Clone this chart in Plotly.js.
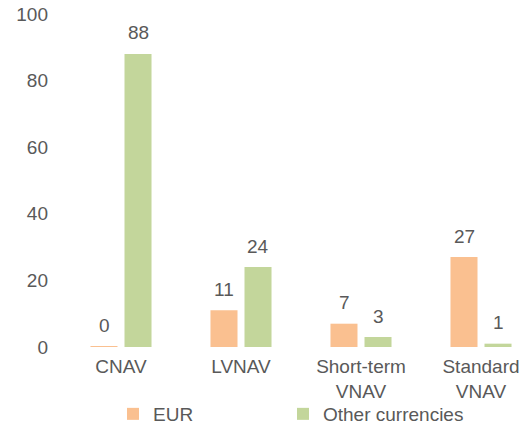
<!DOCTYPE html>
<html><head><meta charset="utf-8">
<script src="https://cdn.plot.ly/plotly-3.0.1.min.js"></script>
<style>html,body{margin:0;padding:0;background:#fff}</style>
</head><body><div id="chart" style="width:526px;height:428px"></div>
<script>
const categories = ["CNAV", "LVNAV", "Short-term<br>VNAV", "Standard<br>VNAV"];
const eurValues = [0.3, 11, 7, 27];
const eurLabels = ["0", "11", "7", "27"];
const otherValues = [88, 24, 3, 1];
const otherLabels = ["88", "24", "3", "1"];
const seriesNames = ["EUR", "Other currencies"];

const idx = categories.map((c, i) => i);
const font = {family: "Liberation Sans, Arial, sans-serif", size: 19, color: "#595959"};
const off = 0.1417;

const annotations = [];
idx.forEach(i => {
  annotations.push({x: i - off, y: eurValues[i], xref: "x", yref: "y", text: eurLabels[i], showarrow: false, yanchor: "middle", yshift: 21, font: font});
  annotations.push({x: i + off, y: otherValues[i], xref: "x", yref: "y", text: otherLabels[i], showarrow: false, yanchor: "middle", yshift: 21, font: font});
});

const data = [
  {type: "bar", name: seriesNames[0], x: idx, y: eurValues, marker: {color: "#FAC090"}, hoverinfo: "skip", legend: "legend"},
  {type: "bar", name: seriesNames[1], x: idx, y: otherValues, marker: {color: "#C3D69B"}, hoverinfo: "skip", legend: "legend2"}
];

const legendBase = {orientation: "h", xref: "container", yref: "container", xanchor: "left", y: 0.0327, yanchor: "middle",
                    itemwidth: 30, font: font, bgcolor: "rgba(0,0,0,0)"};

const layout = {
  width: 526, height: 428,
  margin: {l: 61, r: 0, t: 14, b: 81, autoexpand: false},
  paper_bgcolor: "#fff", plot_bgcolor: "#fff",
  font: font,
  barmode: "group", bargap: 0.433, bargroupgap: 0.206,
  showlegend: true,
  legend: Object.assign({}, legendBase, {x: 0.2148}),
  legend2: Object.assign({}, legendBase, {x: 0.538}),
  xaxis: {type: "linear", range: [-0.5, 3.375], tickvals: idx, ticktext: categories,
          showgrid: false, zeroline: false, showline: false, ticks: "", ticklabelstandoff: 6, tickfont: font, fixedrange: true},
  yaxis: {range: [0, 100], tickvals: [0, 20, 40, 60, 80, 100], showgrid: false, zeroline: false, showline: false,
          ticks: "", ticklabelstandoff: 12, tickfont: font, fixedrange: true},
  annotations: annotations
};
Plotly.newPlot("chart", data, layout, {staticPlot: true});
</script></body></html>
